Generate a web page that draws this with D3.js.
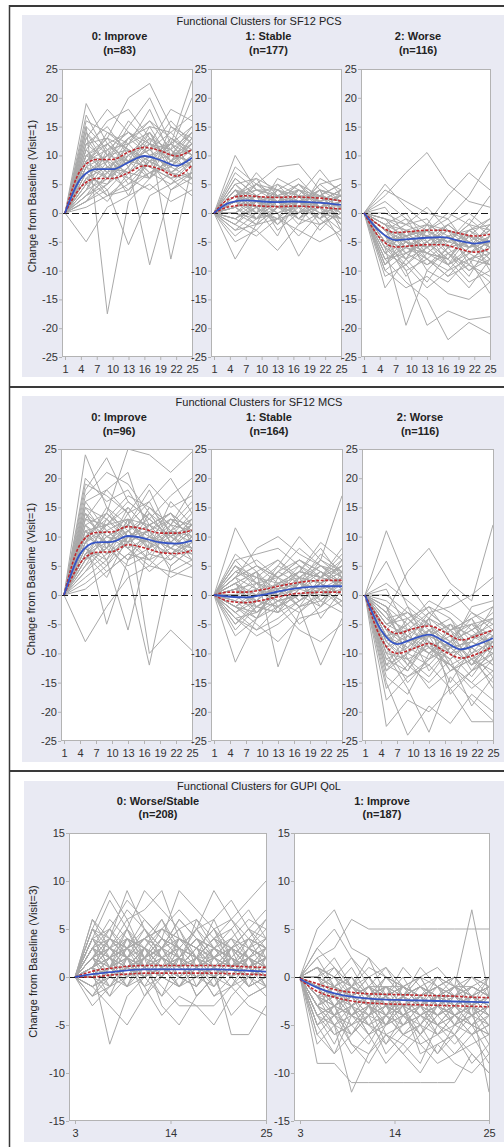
<!DOCTYPE html>
<html>
<head>
<meta charset="utf-8">
<script src="https://cdn.jsdelivr.net/npm/d3@7"></script>
<style>
  body { margin: 0; background: #fff; }
  svg { display: block; font-family: Arial, "Liberation Sans", sans-serif; }
</style>
</head>
<body>
<svg id="chart" width="504" height="1147"></svg>
<script>
// Visits at which each subject was measured
var sf12Visits = [1, 5, 9, 13, 17, 21, 25];
var gupiVisits = [3, 5, 7, 9, 11, 13, 15, 17, 19, 21, 23, 25];

var sf12FitVisits = [1, 4, 7, 10, 13, 16, 19, 22, 25];
var gupiFitVisits = [3, 5, 7, 9, 11, 13, 15, 17, 19, 21, 23, 25];

// Axis ticks
var sf12XTicks = [1, 4, 7, 10, 13, 16, 19, 22, 25];
var sf12YTicks = [-25, -20, -15, -10, -5, 0, 5, 10, 15, 20, 25];
var gupiXTicks = [3, 14, 25];
var gupiYTicks = [-15, -10, -5, 0, 5, 10, 15];

// Texts
var sectionTitles = ["Functional Clusters for SF12 PCS", "Functional Clusters for SF12 MCS", "Functional Clusters for GUPI QoL"];
var yAxisLabels = ["Change from Baseline (Visit=1)", "Change from Baseline (Visit=1)", "Change from Baseline (Visit=3)"];
var pcsClusters = ["0: Improve", "1: Stable", "2: Worse"];
var pcsCounts = [83, 177, 116];
var mcsClusters = ["0: Improve", "1: Stable", "2: Worse"];
var mcsCounts = [96, 164, 116];
var gupiClusters = ["0: Worse/Stable", "1: Improve"];
var gupiCounts = [208, 187];

// SF12 PCS, one row per subject (visits 1,5,9,13,17,21,25)
var pcsImproveLines = [
  [0, 19, 12, 8, 14, 10, 9], [0, 15, -17.5, 2, 6, 9, 12], [0, 10, 13, 20, 22.5, 15, 13], [0, 8, 6, 9, 11, 7, 10],
  [0, 5, 7, 4, 9, 12, 23], [0, 12, 15, 10, 13, -8, 8], [0, 3, 5, 8, -9, 4, 6], [0, 7, 9, 13, 10, 8, 11],
  [0, 14, 10, 16, 12, 11, 14], [0, 2, 4, -5.5, 3, 5, 7], [0, 6, 8, 7, 10, 6, 9], [0, 9, 11, 12, 16, 13, 10],
  [0, -5, 1, 3, 5, 2, 4], [0, 11, 7, 9, 8, 12, 15], [0, 4, 6, 10, 12, 9, 8], [0, 13, 18, 14, 11, 16, 12],
  [0, 8, 3, 6, 9, 4, 7], [0, 16, 14, 12, 18, 10, 11], [0, 1, 3, 5, 7, 8, 6], [0, 10, 12, 9, 15, 14, 17],
  [0, 7, 10, 11, 7, 5, 9], [0, 5, 2, 7, 6, 10, 12], [0, 12, 9, 15, 20, 12, 10], [0, 3, 8, 6, 4, 7, 5],
  [0, 9, 13, 8, 12, 18, 16], [0, 6, 5, 10, 14, 8, 13], [0, 15, 11, 6, 9, 13, 10], [0, 2, 7, 12, 8, 6, 3],
  [0, 11, 16, 18, 13, 9, 14], [0, 4, 9, 3, 10, 11, 8], [0, 8, 14, 11, 6, 15, 12], [0, 17, 10, 13, 16, 11, 20],
  [0, 9, 6, 11, 9, 7, 10], [0, 6, 10, 9, 11, 12, 8], [0, 13, 8, 10, 7, 9, 13], [0, 4, 11, 14, 12, 10, 9],
  [0, 7, 4, 8, 13, 11, 6], [0, 10, 9, 7, 10, 8, 12], [0, 5, 12, 9, 6, 13, 11], [0, 11, 6, 12, 14, 7, 9],
  [0, 8, 10, 5, 9, 10, 14], [0, 3, 6, 9, 11, 14, 10], [0, 12, 13, 11, 8, 6, 7], [0, 6, 3, 4, 7, 9, 11],
  [0, 9, 12, 14, 10, 12, 8], [0, 14, 8, 7, 12, 10, 15], [0, 2, 5, 11, 9, 7, 6], [0, 10, 7, 13, 15, 9, 11]
];
var pcsStableLines = [
  [0, 10, 4, 2, 5, 3, 1], [0, -8, -2, -1, 0, 1, -2], [0, 3, 5, 8, 8.5, 4, 2], [0, 2, 1, 3, -1, 2, 4],
  [0, -1, -3, -6.5, -2, 0, -1], [0, 4, 2, 1, 3, 7.5, 3], [0, 1, 3, 0, -7.5, -2, 1], [0, 5, 6, 4, 2, 3, 5],
  [0, -3, 0, 2, 1, -1, -4], [0, 2, -1, 1, 4, 2, 0], [0, 6, 3, 5, 3, 1, 2], [0, 0, 2, -2, 1, 4, 3],
  [0, 3, 1, 4, 6, 2, -1], [0, -2, -4, -1, -3, -5, -3], [0, 7, 4, 3, 1, 5, 6], [0, 1, 5, 2, 3, 0, 2],
  [0, -4, -1, 0, 2, 1, -5], [0, 4, 0, 6, 4, 3, 1], [0, 2, 3, -3, 0, 6, 4], [0, 0, -2, 1, -1, -2, 0],
  [0, 5, 2, 3, 5, 1, 3], [0, 3, 6, 1, 2, 4, -2], [0, -1, 1, -4, 3, -1, 2], [0, 6, 3, 2, -2, 3, 5],
  [0, 1, -2, 5, 1, -3, 1], [0, 8, 5, 3, 4, 2, 3], [0, -2, 2, 0, -4, 0, -3], [0, 3, 4, 4, 1, 5, 2],
  [0, 0, -1, 2, 5, 2, 4], [0, 4, 1, -2, 2, -1, 1], [0, -5, -3, 1, 0, 3, 0], [0, 2, 7, 3, -1, 1, -1],
  [0, 1, 2, 1, 3, 2, 1], [0, 2, 0, 3, 2, 1, 3], [0, -1, 1, 2, -1, 3, 2], [0, 3, 2, 0, 1, 2, -1],
  [0, 0, 3, 2, 4, 1, 2], [0, 4, 3, 1, 2, 4, 3], [0, -2, 1, -1, 2, 0, 1], [0, 2, 4, 3, 0, 2, 4],
  [0, 1, -1, 4, 3, -2, 0], [0, 5, 1, 2, 3, 3, 2], [0, -3, -2, 1, 1, 2, -1], [0, 3, 0, -1, 4, 1, 3],
  [0, 2, 5, 4, 2, 0, 1], [0, -1, 2, 3, 1, 4, -3], [0, 4, -1, 2, 0, 3, 2], [0, 1, 3, -2, 2, -1, 4]
];
var pcsWorseLines = [
  [0, -13, -8, -6, -9, -7, -5], [0, -6, -19.5, -10, -12, -8, -9], [0, -4, -10, -19.5, -17, -18.5, -18], [0, -8, -12, -15, -22, -19, -21],
  [0, 3, 7, 10.5, 5, 2, 1], [0, -2, -4, -3, -5, -1, -4], [0, -5, -3, -7, -4, -6, -2], [0, -7, -9, -5, -8, -12, -10],
  [0, 0, -2, 1, -3, -4, -1], [0, -3, -6, -4, -2, -5, -7], [0, -9, -5, -8, -10, -6, -4], [0, 2, -1, -3, 0, -2, 3],
  [0, -4, -7, -9, -6, -3, -5], [0, -10, -13, -11, -14, -15, -12], [0, -1, -3, -2, -4, -8, -6], [0, -6, -4, -6, -3, -5, -8],
  [0, 5, 1, -2, 3, 7, 4], [0, -3, -8, -12, -7, -9, -11], [0, -8, -6, -4, -5, -2, -3], [0, -2, 0, -5, -8, -4, -6],
  [0, -5, -11, -7, -9, -13, -8], [0, -1, -5, -3, -1, -6, -2], [0, -7, -3, -8, -11, -7, -9], [0, 1, -4, -6, -2, 0, -3],
  [0, -4, -2, -1, -6, -10, -7], [0, -11, -9, -13, -10, -8, -14], [0, -3, -5, -7, -4, -3, -1], [0, -6, -8, -2, -7, -11, -5],
  [0, 4, 2, 0, -1, 3, 9], [0, -2, -7, -5, -3, -9, -4], [0, -9, -4, -10, -6, -5, -7], [0, -5, -6, -3, -9, -4, -10],
  [0, -4, -5, -6, -4, -7, -5], [0, -6, -3, -4, -7, -5, -8], [0, -2, -6, -8, -5, -4, -6], [0, -8, -7, -5, -9, -6, -4],
  [0, -3, -4, -2, -3, -6, -5], [0, -5, -9, -6, -4, -8, -7], [0, -1, -2, -4, -6, -3, -2], [0, -7, -5, -9, -7, -10, -8],
  [0, -4, -8, -3, -5, -2, -6], [0, -9, -6, -7, -8, -4, -5], [0, -2, -3, -5, -2, -5, -3], [0, -6, -10, -8, -11, -9, -12],
  [0, -3, -1, -6, -4, -7, -4], [0, -5, -4, -3, -6, -5, -9], [0, -10, -7, -4, -5, -6, -3], [0, -1, -5, -7, -8, -3, -6]
];

// SF12 MCS, one row per subject
var mcsImproveLines = [
  [0, 24, 15, 10, 12, 14, 11], [0, 18, 23.5, 16, 13, 10, 12], [0, 12, 14, 25, 24, 21, 24.5], [0, -8, -2, 3, 5, 4, 6],
  [0, 10, -5, 6, 8, 11, 9], [0, 7, 9, 4, -12, 5, 8], [0, 14, 11, 13, -10, -6, -9.5], [0, 9, 12, 15, 11, 13, 10],
  [0, 5, 8, 11, 14, 9, 7], [0, 16, 18, 14, 19, 15, 17], [0, 11, 7, 9, 6, 8, 12], [0, 3, 6, -6, 9, 7, 5],
  [0, 13, 10, 12, 16, 20, 14], [0, 8, 4, 7, 10, 6, 9], [0, 20, 16, 18, 12, 14, 11], [0, 6, 10, 8, 5, 9, 13],
  [0, 15, 13, 17, 15, 12, 16], [0, 2, 5, 9, 11, 4, 3], [0, 10, 14, 11, 8, 16, 12], [0, 17, 21, 19, 14, 11, 15],
  [0, 7, 3, 10, 12, 8, 6], [0, 12, 9, 6, 10, 13, 10], [0, 4, 7, 13, 9, 5, 8], [0, 9, 15, 12, 18, 10, 7],
  [0, 14, 8, 5, 7, 11, 13], [0, 11, 12, 16, 13, 17, 20], [0, 5, 11, 8, 4, 7, 10], [0, 19, 17, 14, 16, 9, 12],
  [0, 8, 6, 10, 12, 14, 9], [0, 13, 18, 21, 10, 8, 11], [0, 1, 4, 7, 6, 3, 5], [0, 10, 13, 9, 15, 12, 18],
  [0, 9, 11, 8, 10, 9, 8], [0, 12, 7, 10, 9, 11, 10], [0, 7, 12, 13, 8, 10, 12], [0, 11, 9, 6, 12, 8, 11],
  [0, 6, 13, 10, 11, 7, 9], [0, 15, 10, 12, 9, 12, 8], [0, 8, 5, 11, 13, 10, 14], [0, 10, 8, 14, 7, 6, 10],
  [0, 13, 12, 9, 11, 14, 9], [0, 4, 9, 12, 10, 8, 7], [0, 16, 11, 8, 14, 9, 13], [0, 9, 14, 10, 6, 12, 11],
  [0, 11, 6, 13, 12, 10, 8], [0, 7, 10, 9, 15, 11, 6], [0, 14, 9, 11, 8, 13, 12], [0, 6, 8, 15, 11, 7, 10]
];
var mcsStableLines = [
  [0, 11.5, 5, 3, 6, 4, 2], [0, -11.5, -4, -2, 0, 1, -1], [0, 2, 4, -12.3, -3, 1, 3], [0, -2, -3, 1, -2, -12, -4],
  [0, 4, 2, 5, 10, 6, 17], [0, 3, 8, 10, 7, 5, 4], [0, -5, -1, 2, 3, -2, 1], [0, 1, -2, 0, 4, 3, 5],
  [0, -3, -6, -4, -1, 2, 0], [0, 5, 3, 6, 2, 7, 4], [0, 0, 1, -1, -3, 0, 2], [0, -1, -4, 3, 5, 2, -2],
  [0, 6, 2, 1, 4, 8, 3], [0, -4, -7, -5, -2, -1, -3], [0, 2, 0, 4, 6, 3, 5], [0, -6, -2, -3, 1, 4, 2],
  [0, 3, 5, 2, -1, 1, 6], [0, 1, -1, -2, 2, 5, 3], [0, -2, -5, -8, -4, -3, -1], [0, 7, 4, 6, 3, 2, 4],
  [0, 0, 3, 1, 5, -1, 2], [0, -3, -1, 2, -2, 3, 7], [0, 4, 6, 3, 1, 4, 1], [0, -1, 2, -3, 3, 6, 3],
  [0, 2, -3, 0, -5, -2, 4], [0, -7, -4, -1, 2, 1, -2], [0, 5, 1, 4, 8, 5, 2], [0, 1, 4, -2, 0, 2, 5],
  [0, -2, 0, 5, 3, -4, 1], [0, 3, -2, 1, 4, 9, 6], [0, -4, -6, -2, -6, -8, -5], [0, 6, 7, 8, 5, 3, 8],
  [0, 1, 0, 2, 1, 3, 2], [0, -2, 1, 0, 3, 2, 4], [0, 2, -1, -2, 1, 0, 3], [0, 0, -3, 1, 2, 4, 1],
  [0, 3, 1, -1, 0, 2, 5], [0, -1, -2, -3, -1, 1, 2], [0, 4, 3, 2, 4, 3, 6], [0, -3, 0, 1, -2, 0, 1],
  [0, 2, 4, 0, 3, 5, 2], [0, -4, -3, -1, 0, -2, 3], [0, 1, 2, 3, 6, 4, 1], [0, 0, -1, 4, 2, 1, -1],
  [0, 5, 2, 0, 1, 6, 4], [0, -2, -4, 2, 4, 3, 2], [0, 3, 5, 3, -1, 2, 0], [0, -5, -2, 0, 2, -1, 3]
];
var mcsWorseLines = [
  [0, 11, 2, -3, -6, -4, -2], [0, -22.5, -18, -20, -16, -21.7, -21.7], [0, -15, -24, -19, -22, -17, -20], [0, -10, -16, -23.5, -14, -18, -21.5],
  [0, -3, 4, 8, 2, -1, 12], [0, 5.8, -2, -5, -8, -3, -6], [0, -8, -12, -6, -10, -14, -9], [0, -5, -7, -9, -11, -8, -4],
  [0, -12, -10, -4, -7, -11, -13], [0, -2, -5, -1, -3, -6, -3], [0, -18, -14, -12, -16, -13, -11], [0, -6, -9, -11, -5, -7, -8],
  [0, 0, -3, -5, -9, -2, -1], [0, -9, -4, -7, -13, -10, -6], [0, -14, -17, -10, -12, -15, -18], [0, -4, -8, -3, -6, -12, -10],
  [0, -7, -6, -13, -9, -5, -7], [0, 2, -1, -4, 1, -3, -5], [0, -11, -13, -8, -15, -9, -12], [0, -3, -10, -6, -4, -8, -2],
  [0, -16, -12, -15, -11, -19, -14], [0, -1, -4, -2, -7, -5, -9], [0, -9, -15, -11, -8, -6, -4], [0, -6, -2, -9, -12, -16, -13],
  [0, -13, -8, -6, -10, -7, -9], [0, 1, -6, -3, -2, 0, 3], [0, -10, -11, -16, -13, -11, -15], [0, -5, -3, -7, -5, -9, -6],
  [0, -7, -9, -4, -17, -13, -8], [0, -12, -7, -10, -6, -4, -11], [0, -2, -11, -14, -9, -12, -7], [0, -8, -5, -2, -4, -10, -16],
  [0, -6, -8, -7, -9, -8, -10], [0, -9, -7, -10, -8, -11, -9], [0, -4, -6, -8, -10, -7, -5], [0, -11, -9, -6, -12, -10, -8],
  [0, -7, -10, -12, -8, -6, -9], [0, -3, -7, -4, -6, -9, -7], [0, -8, -11, -9, -7, -13, -10], [0, -5, -4, -8, -11, -7, -6],
  [0, -13, -10, -7, -9, -12, -8], [0, -2, -8, -10, -6, -5, -4], [0, -10, -6, -5, -10, -9, -12], [0, -6, -12, -8, -13, -11, -7],
  [0, -4, -3, -6, -8, -4, -9], [0, -12, -14, -11, -9, -8, -10], [0, -7, -5, -9, -12, -15, -11], [0, -9, -13, -7, -5, -10, -14]
];

// GUPI QoL, one row per subject (visits 3,5,...,25)
var gupiWorseLines = [
  [0, 6, 3, 2, 4, 5, 3, 2, 4, 1, 3, 2], [0, 1, -7, -2, 0, 1, -1, 2, 0, 1, -1, 0], [0, 2, 4, 9, 5, 3, 6, 4, 2, 3, 5, 4],
  [0, 0, 1, -1, 2, -3, -5, -2, 0, -4, -2, -1], [0, 5, 9, 6, 7, 9, 4, 3, 5, 6, 8, 10], [0, 3, 2, 4, 1, 2, 3, 5, 9, 6, 4, 3],
  [0, -1, 0, 2, -2, 1, 0, -1, 1, -6, -6, -3], [0, 4, 5, 3, 6, 4, 2, 4, 3, 5, 2, 1], [0, 2, -1, 1, 3, 0, 2, 1, -2, 0, 3, 2],
  [0, 1, 3, 5, 2, 4, 9, 7, 5, 3, 4, 6], [0, 0, -2, 0, 1, -1, -3, -3, -3, -1, 0, -2], [0, 3, 6, 4, 3, 5, 4, 2, 6, 8, 5, 3],
  [0, -2, 1, -1, 0, 2, 1, 3, 1, -1, 2, 0], [0, 5, 2, 3, 5, 3, 6, 4, 3, 2, 1, 3], [0, 1, 4, 2, -1, 0, 2, -2, 0, 3, 1, -1],
  [0, 2, 0, 3, 4, 6, 3, 5, 2, 4, 6, 5], [0, 6, 4, 7, 5, 2, 1, 3, 5, 2, 0, 1], [0, -1, -3, -5, -2, 0, -1, 1, -2, -1, -3, -4],
  [0, 3, 1, 0, 2, 3, 5, 2, 4, 6, 3, 2], [0, 0, 2, 4, 3, 1, -1, 0, 3, 1, 2, 4], [0, 4, 8, 5, 9, 7, 5, 6, 4, 3, 5, 7],
  [0, 2, 3, 1, 0, -2, 2, 1, -1, 2, 0, 1], [0, 1, -1, 2, 4, 3, 0, 2, 1, 0, -2, -1], [0, 5, 3, 6, 2, 4, 3, -1, 2, 4, 3, 5],
  [0, -3, -1, 0, 1, -2, 0, 2, -1, 1, 2, 0], [0, 3, 5, 2, 4, 5, 7, 5, 6, 2, 4, 3], [0, 0, 2, -1, 3, 1, 2, -2, 0, 3, -1, 2],
  [0, 2, 4, 3, 1, 0, 4, 3, 5, 1, 2, -1], [0, 4, 1, 5, 3, 6, 2, 4, 1, 3, 5, 2], [0, -2, 0, 1, -1, -4, -2, -3, -5, -2, 0, 1],
  [0, 1, 3, 2, 5, 2, 1, 6, 3, 4, 1, 3], [0, 3, 0, 4, 2, 3, 5, 1, 2, 0, 3, 6], [0, 2, 5, 8, 6, 4, 3, 2, 4, 5, 7, 4],
  [0, 0, 1, 3, 0, 2, -1, 1, 3, 2, -1, 0], [0, 4, 2, 0, 3, 1, 4, 2, 0, -1, 1, 2], [0, 1, -2, 2, 1, 3, 2, 4, 2, 1, 4, 3],
  [0, 1, 2, 1, 0, 2, 1, 0, 1, 2, 0, 1], [0, 2, 1, 3, 2, 1, 0, 2, 3, 1, 2, 0], [0, 0, 1, 0, 2, 3, 2, 1, 0, 2, 1, 2],
  [0, 3, 2, 1, 3, 2, 4, 3, 1, 0, 2, 1], [0, -1, 1, 2, 1, 0, 3, 2, 2, 1, 0, -1], [0, 2, 3, 2, 1, 4, 2, 0, 1, 3, 2, 1],
  [0, 1, 0, -1, 1, 2, 1, 3, 2, 0, 1, 2], [0, 0, 2, 3, 4, 2, 1, 2, 0, 1, 3, 2], [0, 4, 3, 2, 0, 1, 2, 1, 3, 2, 1, 0],
  [0, 1, 3, 4, 2, 3, 0, 1, 2, 4, 2, 3], [0, -2, -1, 1, 0, 1, 2, 0, -1, 1, 0, 1], [0, 2, 0, 1, 3, 1, 2, 4, 2, 1, 3, 1],
  [0, 3, 4, 2, 1, 0, 3, 2, 4, 3, 1, 2], [0, 0, 1, 2, -1, 2, 1, 0, 1, 0, 2, -1], [0, 1, 2, 0, 2, 4, 3, 2, 1, 2, 0, 3],
  [0, 2, 1, 4, 3, 2, 1, 3, 0, 2, 4, 1], [0, 5, 4, 3, 4, 2, 3, 1, 2, 3, 2, 4], [0, -1, 0, 1, 2, 0, -1, 1, 3, 1, -1, 0],
  [0, 3, 2, 5, 1, 3, 4, 2, 1, 0, 2, 3], [0, 1, 4, 2, 3, 1, 2, 5, 3, 2, 1, 2], [0, 0, -1, 1, 3, 2, 0, -1, 2, 3, 1, 0],
  [0, 2, 3, 1, 2, 5, 4, 3, 2, 1, 3, 4], [0, 4, 1, 2, 0, 3, 1, 2, 4, 2, 0, 2], [0, 1, 2, 3, 1, 0, 2, 1, 0, 3, 2, 1]
];
var gupiImproveLines = [
  [0, 5, 7, 3, 2, 0, -1, -2, -1, 0, -2, -3], [0, -9, -9, -11, -11, -11, -11, -11, -11, -11, -8, -10], [0, -3, -5, -12, -8, -6, -7, -9, -5, -4, -6, -5],
  [0, 2, 3, 6, 5, 5, 5, 5, 5, 5, 5, 5], [0, -1, -2, -4, -3, -5, -2, -3, -4, -6, -3, -12], [0, 1, 0, -1, 2, -2, -1, 0, -3, -1, 7, -2],
  [0, -2, -4, -3, -6, -4, -5, -3, -2, -4, -5, -3], [0, -4, -6, -5, -3, -7, -4, -6, -8, -5, -4, -7], [0, 0, -1, -2, -1, -3, -2, -1, -2, -3, -1, -2],
  [0, -5, -3, -7, -9, -6, -8, -10, -7, -9, -10, -8], [0, 3, 1, -1, 0, -2, 1, -1, 0, -2, -1, 0], [0, -1, -3, -2, -4, -1, -3, -2, -5, -3, -2, -4],
  [0, -6, -8, -4, -5, -7, -5, -4, -6, -8, -7, -6], [0, 1, -2, 0, -3, -1, -4, -2, -1, 0, -3, -1], [0, -3, -1, -4, -2, -5, -3, -6, -4, -2, -4, -3],
  [0, -2, -5, -6, -4, -3, -6, -5, -3, -4, -6, -9], [0, 0, 2, -1, 1, 0, -2, 1, -1, -2, 0, -1], [0, -4, -3, -2, -5, -4, -3, -7, -6, -5, -3, -4],
  [0, -1, 0, -3, -2, -4, -1, -3, -2, -1, -4, -2], [0, -7, -5, -8, -6, -9, -7, -5, -8, -6, -9, -7], [0, 2, -1, 1, -2, 0, -1, -3, 0, -1, -2, -3],
  [0, -3, -6, -5, -7, -4, -6, -4, -3, -5, -2, -4], [0, -2, -1, -2, 0, -3, -4, -2, -4, -3, -1, -2], [0, -5, -4, -6, -3, -5, -2, -4, -5, -7, -5, -6],
  [0, 0, -3, -1, -2, -1, -3, -1, -2, 0, -2, -1], [0, -1, -2, -3, -1, -2, 0, -3, -1, -2, -3, 0], [0, -4, -7, -3, -5, -6, -8, -6, -4, -3, -5, -8],
  [0, 1, 0, 2, -1, 1, -2, 0, -3, -1, 0, -2], [0, -3, -2, -5, -4, -2, -5, -3, -6, -4, -3, -5], [0, -6, -4, -7, -8, -5, -3, -8, -7, -6, -8, -10],
  [0, -2, -3, -1, -3, -4, -2, -5, -2, -3, -4, -3], [0, 0, -1, 0, -2, -1, -1, -2, 0, -1, -1, -2], [0, -5, -8, -6, -4, -8, -6, -7, -9, -8, -6, -5],
  [0, -1, 1, -2, -3, 0, -2, -1, -3, -2, 0, -1], [0, -3, -4, -2, -1, -3, -4, -2, -1, -4, -3, -2], [0, 3, 5, 2, 0, 1, -1, 0, 1, -1, -2, 0],
  [0, -1, -2, -1, -3, -2, -1, -3, -2, -1, -2, -3], [0, -2, -3, -4, -2, -3, -5, -4, -3, -2, -4, -3], [0, 0, -1, -3, -2, -1, -2, -1, -3, -4, -2, -1],
  [0, -3, -2, -2, -4, -5, -3, -2, -4, -3, -5, -4], [0, -1, 0, -2, -1, -3, -3, -4, -2, -1, -3, -2], [0, -4, -5, -3, -6, -4, -2, -3, -5, -6, -4, -5],
  [0, -2, -1, 0, -2, -1, -3, -2, -1, -3, -2, -4], [0, 1, -1, -2, 0, -2, -1, -3, -2, -2, -1, -2], [0, -3, -4, -5, -3, -2, -4, -5, -6, -4, -3, -6],
  [0, -1, -3, -2, -1, -4, -2, -1, -2, -3, -1, -2], [0, -2, -2, -4, -5, -3, -4, -3, -2, -5, -6, -4], [0, 0, 1, -1, -2, 0, -1, -2, -1, 0, -2, -3],
  [0, -5, -3, -4, -2, -6, -5, -3, -4, -2, -3, -5], [0, -2, -4, -1, -3, -2, -3, -4, -3, -5, -4, -2], [0, -1, -1, -3, -4, -2, -1, -2, -4, -3, -2, -1],
  [0, -3, -2, -1, -2, -4, -6, -5, -3, -2, -4, -3], [0, 0, -2, -3, -1, -1, -2, 0, -1, -2, -3, -2], [0, -4, -3, -6, -4, -3, -2, -4, -5, -3, -2, -4],
  [0, -2, -1, -2, -3, -5, -4, -2, -1, -3, -5, -6], [0, -1, -4, -3, -2, -1, -3, -3, -2, -4, -3, -2], [0, -3, -5, -4, -6, -5, -4, -6, -3, -4, -5, -3],
  [0, 1, 0, -1, -2, -3, -1, -2, -3, -1, -2, -1], [0, -2, -3, -2, -1, -2, -4, -3, -5, -4, -3, -4], [0, -1, -2, -4, -3, -4, -2, -1, -2, -2, -4, -3]
];

// Fitted mean curve with its upper and lower band, per cluster
var pcsImproveFit = [0, 6.0, 7.6, 7.6, 8.8, 9.9, 9.2, 8.2, 9.6];
var pcsImproveUpper = [0, 7.5, 9.3, 9.3, 10.6, 11.4, 10.8, 9.9, 11.0];
var pcsImproveLower = [0, 4.5, 6.0, 6.0, 7.0, 8.2, 7.6, 6.4, 8.3];
var pcsStableFit = [0, 1.8, 2.2, 2.0, 1.9, 2.0, 1.9, 1.7, 1.4];
var pcsStableUpper = [0, 2.5, 3.0, 2.8, 2.7, 2.8, 2.7, 2.5, 2.1];
var pcsStableLower = [0, 1.1, 1.4, 1.2, 1.1, 1.2, 1.1, 0.9, 0.7];
var pcsWorseFit = [0, -3.2, -4.7, -4.5, -4.3, -4.2, -4.8, -5.3, -4.9];
var pcsWorseUpper = [0, -2.2, -3.4, -3.2, -3.0, -3.0, -3.5, -4.0, -3.7];
var pcsWorseLower = [0, -4.3, -5.9, -5.7, -5.5, -5.5, -6.2, -6.8, -6.2];

var mcsImproveFit = [0, 7.0, 9.0, 9.1, 10.1, 9.7, 9.0, 8.8, 9.3];
var mcsImproveUpper = [0, 8.6, 10.7, 10.8, 11.7, 11.3, 10.6, 10.6, 11.1];
var mcsImproveLower = [0, 5.4, 7.3, 7.4, 8.6, 8.1, 7.3, 7.1, 7.6];
var mcsStableFit = [0, -0.3, -0.4, 0.0, 0.6, 1.1, 1.4, 1.5, 1.5];
var mcsStableUpper = [0, 0.5, 0.5, 0.9, 1.5, 2.0, 2.4, 2.5, 2.5];
var mcsStableLower = [0, -1.1, -1.3, -0.9, -0.3, 0.2, 0.4, 0.5, 0.5];
var mcsWorseFit = [0, -6.0, -8.4, -7.5, -6.8, -8.0, -9.3, -8.5, -7.4];
var mcsWorseUpper = [0, -4.6, -6.6, -5.8, -5.3, -6.4, -7.7, -7.0, -6.0];
var mcsWorseLower = [0, -7.4, -10.0, -9.2, -8.3, -9.7, -10.8, -10.1, -8.8];

var gupiWorseFit = [0, 0.3, 0.5, 0.7, 0.8, 0.8, 0.8, 0.8, 0.8, 0.75, 0.65, 0.55];
var gupiWorseUpper = [0, 0.6, 0.9, 1.1, 1.2, 1.2, 1.2, 1.2, 1.2, 1.15, 1.05, 1.0];
var gupiWorseLower = [0, 0.0, 0.2, 0.3, 0.4, 0.4, 0.4, 0.4, 0.4, 0.35, 0.3, 0.2];
var gupiImproveFit = [-0.2, -1.1, -1.7, -2.05, -2.25, -2.35, -2.4, -2.45, -2.5, -2.55, -2.6, -2.65];
var gupiImproveUpper = [-0.15, -0.7, -1.3, -1.6, -1.75, -1.8, -1.85, -1.9, -1.95, -2.0, -2.1, -2.15];
var gupiImproveLower = [-0.25, -1.5, -2.1, -2.5, -2.7, -2.8, -2.85, -2.9, -2.95, -3.0, -3.05, -3.1];

// Static style
var style = {
    background: "#e9eaf3",
    border: "#3a3a3a",
    frame: "#b3b3b3",
    subject: "#a9a9a9",
    mean: "#3554c4",
    band: "#c0282d",
    text: "#333333",
    fontSize: 11
};

// Panels built from the arrays above
var sections = [
    {
        title: sectionTitles[0], yLabel: yAxisLabels[0],
        bgTop: 15, bgBottom: 377, bgLeft: 22, titleY: 24.6, headY: 40, countY: 53.5, yLabelX: 36,
        plotTop: 69, plotBottom: 357, padLeft: 3, labelShift: 16,
        frames: [[62, 193], [211, 342], [361, 491]],
        visits: sf12Visits, fitVisits: sf12FitVisits, xDomain: [1, 25], yDomain: [-25, 25],
        xTicks: sf12XTicks, yTicks: sf12YTicks,
        panels: [
            { name: pcsClusters[0], n: pcsCounts[0], lines: pcsImproveLines, fit: pcsImproveFit, upper: pcsImproveUpper, lower: pcsImproveLower },
            { name: pcsClusters[1], n: pcsCounts[1], lines: pcsStableLines, fit: pcsStableFit, upper: pcsStableUpper, lower: pcsStableLower },
            { name: pcsClusters[2], n: pcsCounts[2], lines: pcsWorseLines, fit: pcsWorseFit, upper: pcsWorseUpper, lower: pcsWorseLower }
        ]
    },
    {
        title: sectionTitles[1], yLabel: yAxisLabels[1],
        bgTop: 396, bgBottom: 762, bgLeft: 22, titleY: 405.6, headY: 421.2, countY: 435, yLabelX: 35,
        plotTop: 449, plotBottom: 741, padLeft: 3, labelShift: 16,
        frames: [[61, 193], [211, 343], [362, 494]],
        visits: sf12Visits, fitVisits: sf12FitVisits, xDomain: [1, 25], yDomain: [-25, 25],
        xTicks: sf12XTicks, yTicks: sf12YTicks,
        panels: [
            { name: mcsClusters[0], n: mcsCounts[0], lines: mcsImproveLines, fit: mcsImproveFit, upper: mcsImproveUpper, lower: mcsImproveLower },
            { name: mcsClusters[1], n: mcsCounts[1], lines: mcsStableLines, fit: mcsStableFit, upper: mcsStableUpper, lower: mcsStableLower },
            { name: mcsClusters[2], n: mcsCounts[2], lines: mcsWorseLines, fit: mcsWorseFit, upper: mcsWorseUpper, lower: mcsWorseLower }
        ]
    },
    {
        title: sectionTitles[2], yLabel: yAxisLabels[2],
        bgTop: 781, bgBottom: 1142, bgLeft: 24, titleY: 789.6, headY: 805, countY: 817.5, yLabelX: 37,
        plotTop: 833, plotBottom: 1121, padLeft: 6, labelShift: 20,
        frames: [[69, 267], [294, 490]],
        visits: gupiVisits, fitVisits: gupiFitVisits, xDomain: [3, 25], yDomain: [-15, 15],
        xTicks: gupiXTicks, yTicks: gupiYTicks,
        panels: [
            { name: gupiClusters[0], n: gupiCounts[0], lines: gupiWorseLines, fit: gupiWorseFit, upper: gupiWorseUpper, lower: gupiWorseLower },
            { name: gupiClusters[1], n: gupiCounts[1], lines: gupiImproveLines, fit: gupiImproveFit, upper: gupiImproveUpper, lower: gupiImproveLower }
        ]
    }
];

var svg = d3.select("#chart");
var clipCount = 0;

// plain hyphen for negative tick labels, as in the original
var plainNumber = function(d) { return String(d); };

var drawPanel = function(layer, section, panel, i) {
    var x0 = section.frames[i][0];
    var x1 = section.frames[i][1];

    var x = d3.scaleLinear().domain(section.xDomain).range([x0 + section.padLeft, x1 - 1]);
    var y = d3.scaleLinear().domain(section.yDomain).range([section.plotBottom, section.plotTop]);

    // Panel header
    var headX = (x0 - section.labelShift + x1) / 2;
    layer.append("text")
        .attr("x", headX).attr("y", section.headY)
        .attr("text-anchor", "middle")
        .attr("font-weight", "bold")
        .attr("font-size", style.fontSize)
        .attr("fill", "#222")
        .text(panel.name);
    layer.append("text")
        .attr("x", headX).attr("y", section.countY)
        .attr("text-anchor", "middle")
        .attr("font-weight", "bold")
        .attr("font-size", style.fontSize)
        .attr("fill", "#222")
        .text("(n=" + panel.n + ")");

    // White wall
    layer.append("rect")
        .attr("x", x0).attr("y", section.plotTop)
        .attr("width", x1 - x0).attr("height", section.plotBottom - section.plotTop)
        .attr("fill", "#fff");

    var clipId = "clip" + (clipCount++);
    layer.append("clipPath").attr("id", clipId)
        .append("rect")
        .attr("x", x0).attr("y", section.plotTop)
        .attr("width", x1 - x0).attr("height", section.plotBottom - section.plotTop);

    var marks = layer.append("g").attr("clip-path", "url(#" + clipId + ")");

    // Subject trajectories
    var subjectLine = d3.line()
        .x(function(d, j) { return x(section.visits[j]); })
        .y(function(d) { return y(d); });

    marks.selectAll("path.subject")
        .data(panel.lines)
        .join("path")
        .attr("class", "subject")
        .attr("d", subjectLine)
        .attr("fill", "none")
        .attr("stroke", style.subject)
        .attr("stroke-width", 1);

    // Zero reference, snapped to the pixel grid so it stays crisp
    var zeroY = Math.round(y(0)) + 0.5;
    marks.append("line")
        .attr("x1", x0).attr("x2", x1)
        .attr("y1", zeroY).attr("y2", zeroY)
        .attr("stroke", "#1a1a1a")
        .attr("stroke-width", 1)
        .attr("stroke-dasharray", "7,3");

    // Fitted band and mean
    var fitLine = d3.line()
        .x(function(d, j) { return x(section.fitVisits[j]); })
        .y(function(d) { return y(d); })
        .curve(d3.curveMonotoneX);

    [panel.upper, panel.lower].forEach(function(band) {
        marks.append("path")
            .attr("d", fitLine(band))
            .attr("fill", "none")
            .attr("stroke", style.band)
            .attr("stroke-width", 1.6)
            .attr("stroke-dasharray", "3,1.5");
    });

    marks.append("path")
        .attr("d", fitLine(panel.fit))
        .attr("fill", "none")
        .attr("stroke", style.mean)
        .attr("stroke-width", 1.8);

    // Wall border
    layer.append("rect")
        .attr("x", x0 + 0.5).attr("y", section.plotTop + 0.5)
        .attr("width", x1 - x0 - 1).attr("height", section.plotBottom - section.plotTop - 1)
        .attr("fill", "none")
        .attr("stroke", style.frame);

    // Axes
    var yAxis = layer.append("g")
        .attr("transform", "translate(" + x0 + ",0)")
        .call(d3.axisLeft(y).tickValues(section.yTicks).tickFormat(plainNumber).tickSize(3).tickPadding(1));
    var xAxis = layer.append("g")
        .attr("transform", "translate(0," + section.plotBottom + ")")
        .call(d3.axisBottom(x).tickValues(section.xTicks).tickFormat(plainNumber).tickSize(3).tickPadding(5));

    [yAxis, xAxis].forEach(function(axis) {
        axis.select(".domain").remove();
        axis.selectAll(".tick line").attr("stroke", style.frame);
        axis.selectAll(".tick text")
            .attr("fill", style.text)
            .attr("font-size", style.fontSize)
            .attr("font-family", "Arial, 'Liberation Sans', sans-serif");
    });
};

sections.forEach(function(section) {
    var layer = svg.append("g");

    // Section background
    layer.append("rect")
        .attr("x", section.bgLeft).attr("y", section.bgTop)
        .attr("width", 504 - section.bgLeft).attr("height", section.bgBottom - section.bgTop)
        .attr("fill", style.background);

    layer.append("text")
        .attr("x", 259).attr("y", section.titleY)
        .attr("text-anchor", "middle")
        .attr("font-size", style.fontSize)
        .attr("fill", "#222")
        .text(section.title);

    var midY = (section.bgTop + section.bgBottom) / 2;
    layer.append("text")
        .attr("transform", "translate(" + section.yLabelX + "," + midY + ") rotate(-90)")
        .attr("text-anchor", "middle")
        .attr("font-size", style.fontSize)
        .attr("fill", "#222")
        .text(section.yLabel);

    section.panels.forEach(function(panel, i) {
        drawPanel(layer, section, panel, i);
    });
});

// Outer borders of the three stacked figures
svg.append("line")
    .attr("x1", 9.5).attr("x2", 9.5).attr("y1", 5).attr("y2", 1147)
    .attr("stroke", style.border).attr("stroke-width", 1.5);
[6, 387, 771].forEach(function(yy) {
    svg.append("line")
        .attr("x1", 9).attr("x2", 504).attr("y1", yy).attr("y2", yy)
        .attr("stroke", style.border).attr("stroke-width", 2);
});
</script>
</body>
</html>
